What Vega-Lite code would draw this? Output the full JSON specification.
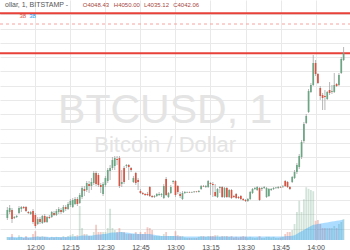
{
  "$schema": "https://vega.github.io/schema/vega-lite/v6.json",
  "width": 350,
  "height": 240,
  "autosize": {"type": "none"},
  "padding": {"left": 0, "top": 0, "right": 0, "bottom": 10},
  "background": "white",
  "config": {"view": {"stroke": null}, "font": "Liberation Sans"},
  "datasets": {
    "candles": [
      {"m":-12,"o":3947.4,"h":3955.1,"l":3946,"c":3953,"v":0.75,"a":0.75},
      {"m":-11,"o":3951.6,"h":3956.5,"l":3950.2,"c":3954.4,"v":0.6,"a":0.75},
      {"m":-10,"o":3953,"h":3954.4,"l":3943.9,"c":3946.7,"v":1.5,"a":0.8},
      {"m":-9,"o":3947.4,"h":3948.8,"l":3946.7,"c":3948.1,"v":0.5,"a":0.75},
      {"m":-8,"o":3948.1,"h":3949.5,"l":3947.4,"c":3948.8,"v":0.5,"a":0.7},
      {"m":-7,"o":3950.9,"h":3955.8,"l":3950.2,"c":3954.4,"v":1.2,"a":0.75},
      {"m":-6,"o":3953.7,"h":3955.8,"l":3951.6,"c":3955.1,"v":0.8,"a":0.75},
      {"m":-5,"o":3955.1,"h":3955.8,"l":3953.7,"c":3954.4,"v":0.5,"a":0.7},
      {"m":-4,"o":3955.1,"h":3955.8,"l":3951.6,"c":3952.3,"v":1,"a":0.75},
      {"m":-3,"o":3951.6,"h":3952.3,"l":3950.2,"c":3950.9,"v":0.5,"a":0.7},
      {"m":-2,"o":3950.2,"h":3952.3,"l":3949.5,"c":3951.6,"v":0.6,"a":0.7},
      {"m":-1,"o":3952.3,"h":3953.7,"l":3943.2,"c":3944.6,"v":1.5,"a":0.75},
      {"m":0,"o":3949.5,"h":3950.9,"l":3940.4,"c":3941.8,"v":2.2,"a":0.8},
      {"m":1,"o":3943.2,"h":3948.1,"l":3942.5,"c":3946.7,"v":1,"a":0.8},
      {"m":2,"o":3946.7,"h":3948.1,"l":3943.2,"c":3944.6,"v":0.8,"a":0.8},
      {"m":3,"o":3943.9,"h":3949.5,"l":3943.2,"c":3948.8,"v":1,"a":0.8},
      {"m":4,"o":3948.8,"h":3950.2,"l":3943.9,"c":3944.6,"v":0.8,"a":0.8},
      {"m":5,"o":3944.6,"h":3948.8,"l":3943.9,"c":3948.1,"v":0.7,"a":0.8},
      {"m":6,"o":3948.1,"h":3949.5,"l":3946.7,"c":3947.4,"v":0.5,"a":0.75},
      {"m":7,"o":3948.1,"h":3952.3,"l":3947.4,"c":3951.6,"v":0.8,"a":0.75},
      {"m":8,"o":3950.9,"h":3952.3,"l":3948.8,"c":3949.5,"v":0.6,"a":0.75},
      {"m":9,"o":3949.5,"h":3953.7,"l":3948.8,"c":3952.3,"v":0.8,"a":0.75},
      {"m":10,"o":3951.6,"h":3955.1,"l":3950.2,"c":3953.7,"v":0.7,"a":0.75},
      {"m":11,"o":3953,"h":3954.4,"l":3950.2,"c":3951.6,"v":0.6,"a":0.75},
      {"m":12,"o":3951.6,"h":3956.5,"l":3950.9,"c":3955.1,"v":1,"a":0.75},
      {"m":13,"o":3955.1,"h":3956.5,"l":3952.3,"c":3953.7,"v":0.7,"a":0.75},
      {"m":14,"o":3953.7,"h":3958.6,"l":3953,"c":3957.2,"v":1,"a":0.8},
      {"m":15,"o":3956.5,"h":3960.7,"l":3955.1,"c":3959.3,"v":1.2,"a":0.8},
      {"m":16,"o":3955.1,"h":3961.4,"l":3954.4,"c":3960,"v":1.5,"a":0.85},
      {"m":17,"o":3957.2,"h":3962.1,"l":3956.5,"c":3960.7,"v":1,"a":0.85},
      {"m":18,"o":3960.7,"h":3962.1,"l":3955.8,"c":3957.2,"v":1.2,"a":0.9},
      {"m":19,"o":3957.9,"h":3964.9,"l":3957.2,"c":3963.5,"v":8.5,"a":1},
      {"m":20,"o":3962.1,"h":3969.8,"l":3960.7,"c":3968.4,"v":3,"a":1.1},
      {"m":21,"o":3967.7,"h":3969.8,"l":3962.8,"c":3966.3,"v":1.5,"a":1.1},
      {"m":22,"o":3967,"h":3973.3,"l":3965.6,"c":3971.9,"v":1.5,"a":1.1},
      {"m":23,"o":3971.2,"h":3973.3,"l":3964.9,"c":3969.8,"v":1,"a":1.1},
      {"m":24,"o":3969.8,"h":3975.4,"l":3967,"c":3972.6,"v":1,"a":1.1},
      {"m":25,"o":3971.9,"h":3980.3,"l":3970.5,"c":3978.9,"v":2,"a":1.2},
      {"m":26,"o":3978.9,"h":3980.3,"l":3969.8,"c":3971.2,"v":3.8,"a":1.3},
      {"m":27,"o":3977.5,"h":3978.9,"l":3969.1,"c":3970.5,"v":2,"a":1.4},
      {"m":28,"o":3970.5,"h":3971.9,"l":3964.9,"c":3969.1,"v":2,"a":1.4},
      {"m":29,"o":3964.2,"h":3972.6,"l":3962.8,"c":3971.2,"v":2,"a":1.5},
      {"m":30,"o":3970.5,"h":3976.8,"l":3969.1,"c":3975.4,"v":2,"a":1.5},
      {"m":31,"o":3973.3,"h":3982.4,"l":3971.9,"c":3981,"v":3,"a":1.6},
      {"m":32,"o":3980.3,"h":3984.5,"l":3974,"c":3982.4,"v":7.8,"a":1.8},
      {"m":33,"o":3982.4,"h":3990.1,"l":3981,"c":3988,"v":3,"a":1.9},
      {"m":34,"o":3983.8,"h":3990.8,"l":3981,"c":3989.4,"v":2.5,"a":1.9},
      {"m":35,"o":3988.7,"h":3990.8,"l":3984.5,"c":3988,"v":2,"a":1.9},
      {"m":36,"o":3989.4,"h":3990.8,"l":3968.4,"c":3969.8,"v":3,"a":2},
      {"m":37,"o":3971.2,"h":3981,"l":3969.1,"c":3972.6,"v":2,"a":2},
      {"m":38,"o":3982.4,"h":3983.8,"l":3971.2,"c":3972.6,"v":2,"a":1.9},
      {"m":39,"o":3983.8,"h":3985.2,"l":3982.4,"c":3984.5,"v":1.5,"a":1.9},
      {"m":40,"o":3984.5,"h":3985.2,"l":3974,"c":3983.1,"v":1.5,"a":1.8},
      {"m":41,"o":3982.4,"h":3983.1,"l":3979.6,"c":3981,"v":1.5,"a":1.7},
      {"m":42,"o":3972.6,"h":3976.8,"l":3971.9,"c":3975.4,"v":1.5,"a":1.6},
      {"m":43,"o":3978.9,"h":3979.6,"l":3970.5,"c":3971.9,"v":2,"a":1.6},
      {"m":44,"o":3974,"h":3975.4,"l":3967,"c":3972.6,"v":1.5,"a":1.5},
      {"m":45,"o":3966.3,"h":3967.7,"l":3964.2,"c":3964.9,"v":2,"a":1.5},
      {"m":46,"o":3964.9,"h":3965.6,"l":3963.5,"c":3964.2,"v":1.5,"a":1.5},
      {"m":47,"o":3964.2,"h":3964.9,"l":3962.8,"c":3963.5,"v":2,"a":1.5},
      {"m":48,"o":3964.2,"h":3965.6,"l":3962.8,"c":3963.5,"v":3.2,"a":1.5},
      {"m":49,"o":3969.1,"h":3969.8,"l":3962.1,"c":3962.8,"v":3,"a":1.5},
      {"m":50,"o":3962.8,"h":3963.5,"l":3961.4,"c":3962.1,"v":2.5,"a":1.4},
      {"m":51,"o":3962.1,"h":3963.5,"l":3961.4,"c":3962.8,"v":1,"a":1.3},
      {"m":52,"o":3962.8,"h":3964.9,"l":3962.1,"c":3964.2,"v":1,"a":1.2},
      {"m":53,"o":3963.5,"h":3965.6,"l":3962.8,"c":3964.2,"v":1,"a":1.1},
      {"m":54,"o":3963.5,"h":3964.9,"l":3962.1,"c":3964.2,"v":1,"a":1},
      {"m":55,"o":3961.4,"h":3971.2,"l":3960.7,"c":3969.8,"v":1.5,"a":1},
      {"m":56,"o":3974.7,"h":3976.1,"l":3962.8,"c":3963.5,"v":2,"a":1},
      {"m":57,"o":3962.1,"h":3965.6,"l":3961.4,"c":3964.9,"v":1,"a":1},
      {"m":58,"o":3964.9,"h":3970.5,"l":3964.2,"c":3969.1,"v":1,"a":1},
      {"m":59,"o":3972.6,"h":3974,"l":3971.2,"c":3973.3,"v":1,"a":1},
      {"m":60,"o":3973.3,"h":3974,"l":3962.1,"c":3963.5,"v":2.2,"a":1},
      {"m":61,"o":3969.8,"h":3970.5,"l":3964.2,"c":3965.6,"v":1.2,"a":0.95},
      {"m":62,"o":3964.2,"h":3965.6,"l":3961.4,"c":3962.8,"v":1,"a":0.9},
      {"m":63,"o":3960.7,"h":3966.3,"l":3960,"c":3964.9,"v":1,"a":0.9},
      {"m":64,"o":3964.9,"h":3966.3,"l":3964.2,"c":3965.6,"v":0.6,"a":0.85},
      {"m":65,"o":3965.25,"h":3965.95,"l":3964.9,"c":3965.6,"v":0.5,"a":0.85},
      {"m":66,"o":3965.6,"h":3965.95,"l":3964.9,"c":3965.25,"v":0.5,"a":0.85},
      {"m":67,"o":3965.25,"h":3965.95,"l":3964.9,"c":3965.6,"v":0.5,"a":0.85},
      {"m":68,"o":3965.6,"h":3966.3,"l":3964.9,"c":3965.95,"v":0.5,"a":0.85},
      {"m":69,"o":3965.95,"h":3966.3,"l":3965.25,"c":3965.6,"v":0.5,"a":0.85},
      {"m":70,"o":3965.6,"h":3967,"l":3965.25,"c":3966.3,"v":0.8,"a":0.85},
      {"m":71,"o":3967.7,"h":3970.5,"l":3967,"c":3969.8,"v":1,"a":0.85},
      {"m":72,"o":3969.8,"h":3970.5,"l":3969.1,"c":3969.45,"v":1,"a":0.85},
      {"m":73,"o":3969.1,"h":3970.5,"l":3968.4,"c":3969.8,"v":0.8,"a":0.85},
      {"m":74,"o":3969.1,"h":3974,"l":3968.4,"c":3973.3,"v":1,"a":0.85},
      {"m":75,"o":3971.9,"h":3972.6,"l":3963.5,"c":3971.2,"v":1,"a":0.85},
      {"m":76,"o":3971.2,"h":3972.6,"l":3962.1,"c":3970.5,"v":1,"a":0.85},
      {"m":77,"o":3965.6,"h":3971.2,"l":3962.1,"c":3962.8,"v":1.2,"a":0.85},
      {"m":78,"o":3962.1,"h":3968.4,"l":3961.4,"c":3967.7,"v":1.2,"a":0.85},
      {"m":79,"o":3968.4,"h":3969.8,"l":3964.9,"c":3969.1,"v":0.8,"a":0.85},
      {"m":80,"o":3969.1,"h":3969.8,"l":3961.4,"c":3962.1,"v":1,"a":0.85},
      {"m":81,"o":3962.1,"h":3969.1,"l":3961.4,"c":3968.4,"v":1,"a":0.85},
      {"m":82,"o":3968.4,"h":3969.1,"l":3961.4,"c":3962.1,"v":1,"a":0.85},
      {"m":83,"o":3962.1,"h":3967.7,"l":3961.4,"c":3967,"v":0.8,"a":0.85},
      {"m":84,"o":3967,"h":3967.7,"l":3960.7,"c":3961.4,"v":1,"a":0.85},
      {"m":85,"o":3962.8,"h":3963.5,"l":3961.4,"c":3962.1,"v":0.6,"a":0.85},
      {"m":86,"o":3964.2,"h":3964.9,"l":3960.7,"c":3961.4,"v":0.8,"a":0.85},
      {"m":87,"o":3962.1,"h":3962.8,"l":3960.7,"c":3961.4,"v":0.6,"a":0.85},
      {"m":88,"o":3962.8,"h":3963.5,"l":3960,"c":3960.7,"v":0.8,"a":0.85},
      {"m":89,"o":3960.7,"h":3961.4,"l":3959.3,"c":3960,"v":1,"a":0.85},
      {"m":90,"o":3960,"h":3960.7,"l":3958.6,"c":3959.3,"v":0.8,"a":0.85},
      {"m":91,"o":3959.3,"h":3961.4,"l":3958.6,"c":3960.7,"v":0.6,"a":0.85},
      {"m":92,"o":3960.7,"h":3966.3,"l":3960,"c":3965.6,"v":0.8,"a":0.85},
      {"m":93,"o":3964.9,"h":3968.4,"l":3964.2,"c":3967.7,"v":0.6,"a":0.85},
      {"m":94,"o":3967.7,"h":3969.1,"l":3967,"c":3968.4,"v":0.5,"a":0.85},
      {"m":95,"o":3967,"h":3969.8,"l":3966.3,"c":3969.1,"v":0.6,"a":0.85},
      {"m":96,"o":3968.4,"h":3969.1,"l":3959.3,"c":3960,"v":1,"a":0.85},
      {"m":97,"o":3967.7,"h":3969.1,"l":3966.3,"c":3968.4,"v":0.5,"a":0.85},
      {"m":98,"o":3968.4,"h":3969.8,"l":3967.7,"c":3969.1,"v":0.5,"a":0.85},
      {"m":99,"o":3962.1,"h":3969.1,"l":3961.4,"c":3968.4,"v":0.8,"a":0.85},
      {"m":100,"o":3962.8,"h":3968.4,"l":3962.1,"c":3967.7,"v":0.8,"a":0.85},
      {"m":101,"o":3967,"h":3968.4,"l":3966.3,"c":3967.7,"v":0.6,"a":0.85},
      {"m":102,"o":3967.7,"h":3969.1,"l":3967,"c":3968.4,"v":0.8,"a":0.85},
      {"m":103,"o":3968.4,"h":3969.1,"l":3967.7,"c":3968.75,"v":0.5,"a":0.85},
      {"m":104,"o":3968.4,"h":3969.8,"l":3967.7,"c":3969.1,"v":0.5,"a":0.85},
      {"m":105,"o":3969.1,"h":3969.8,"l":3968.4,"c":3968.75,"v":0.6,"a":0.85},
      {"m":106,"o":3969.1,"h":3970.5,"l":3968.4,"c":3969.45,"v":0.8,"a":0.9},
      {"m":107,"o":3973.3,"h":3974,"l":3969.1,"c":3969.8,"v":1.5,"a":0.95},
      {"m":108,"o":3972.6,"h":3973.3,"l":3968.4,"c":3969.1,"v":2,"a":1},
      {"m":109,"o":3969.1,"h":3969.8,"l":3967,"c":3967.7,"v":2,"a":1},
      {"m":110,"o":3972.6,"h":3976.8,"l":3971.9,"c":3976.1,"v":2.5,"a":1.05},
      {"m":111,"o":3975.4,"h":3981,"l":3974.7,"c":3979.6,"v":4,"a":1.2},
      {"m":112,"o":3979.6,"h":3985.9,"l":3978.2,"c":3984.5,"v":7,"a":1.5},
      {"m":113,"o":3983.1,"h":3992.2,"l":3981.7,"c":3990.8,"v":9.8,"a":1.9},
      {"m":114,"o":3990.1,"h":4002,"l":3988.7,"c":4000.6,"v":7,"a":2.2},
      {"m":115,"o":4001.3,"h":4014.6,"l":3999.9,"c":4013.2,"v":10.2,"a":2.5},
      {"m":116,"o":4013.9,"h":4020.2,"l":4013.2,"c":4018.8,"v":13.2,"a":2.9},
      {"m":117,"o":4021.6,"h":4037.7,"l":4020.9,"c":4036.3,"v":12.8,"a":3.2},
      {"m":118,"o":4035.6,"h":4041.9,"l":4034.9,"c":4040.5,"v":12.5,"a":3.5},
      {"m":119,"o":4040.5,"h":4061.5,"l":4039.8,"c":4055.9,"v":12.2,"a":3.8},
      {"m":120,"o":4055.9,"h":4058,"l":4046.8,"c":4048.2,"v":4.8,"a":3.9},
      {"m":121,"o":4048.2,"h":4048.9,"l":4041.2,"c":4041.9,"v":5,"a":4},
      {"m":122,"o":4038.4,"h":4039.8,"l":4030,"c":4032.8,"v":4,"a":4.1},
      {"m":123,"o":4033.5,"h":4034.9,"l":4023,"c":4031.4,"v":3,"a":4.2},
      {"m":124,"o":4032.8,"h":4037,"l":4023,"c":4032.1,"v":3,"a":4.3},
      {"m":125,"o":4030.7,"h":4036.3,"l":4030,"c":4035.6,"v":3,"a":4.4},
      {"m":126,"o":4037,"h":4042.6,"l":4033.5,"c":4034.9,"v":3,"a":4.5},
      {"m":127,"o":4035.6,"h":4040.5,"l":4034.2,"c":4036.3,"v":3,"a":4.6},
      {"m":128,"o":4035.6,"h":4048.9,"l":4034.9,"c":4040.5,"v":3.5,"a":4.7},
      {"m":129,"o":4041.2,"h":4041.9,"l":4039.1,"c":4039.8,"v":3,"a":4.8},
      {"m":130,"o":4040.5,"h":4048.9,"l":4039.8,"c":4047.5,"v":4,"a":4.9},
      {"m":131,"o":4048.9,"h":4060.1,"l":4048.2,"c":4058.7,"v":4.5,"a":5},
      {"m":132,"o":4058,"h":4067.1,"l":4057.3,"c":4062.9,"v":5.2,"a":5.1}
    ]
  },
  "encoding": {
    "x": {
      "field": "m",
      "type": "quantitative",
      "scale": {"domain": [-13, 132.6], "nice": false, "zero": false},
      "axis": {
        "values": [0, 15, 30, 45, 60, 75, 90, 105, 120],
        "labelExpr": "floor((720 + datum.value) / 60) + ':' + (((720 + datum.value) % 60) < 10 ? '0' : '') + ((720 + datum.value) % 60)",
        "title": null,
        "ticks": false,
        "domain": false,
        "grid": true,
        "gridColor": "#e9e9e9",
        "gridWidth": 1,
        "labelFontSize": 7,
        "labelColor": "#4a4a4a",
        "labelPadding": 3,
        "labelFlush": false,
        "labelOverlap": false
      }
    }
  },
  "layer": [
    {
      "data": {"values": [
        {"m": 55.6, "p": 4013.9, "t": "BTCUSD, 1"}
      ]},
      "mark": {"type": "text", "fontSize": 41, "color": "#e4e4e4", "align": "center", "baseline": "alphabetic"},
      "encoding": {
        "y": {
          "field": "p", "type": "quantitative",
          "scale": {"domain": [3932, 4100], "nice": false, "zero": false},
          "axis": {
            "values": [3940, 3950, 3960, 3970, 3980, 3990, 4000, 4010, 4020, 4030, 4040, 4050, 4060, 4070, 4080, 4090],
            "labels": false, "ticks": false, "domain": false, "title": null,
            "grid": true, "gridColor": "#e9e9e9", "gridWidth": 1
          }
        },
        "text": {"field": "t"}
      }
    },
    {
      "layer": [
        {
          "data": {"values": [
            {"m": 55.6, "p": 3993.6, "t": "Bitcoin / Dollar"}
          ]},
          "mark": {"type": "text", "fontSize": 22, "color": "#e4e4e4", "align": "center", "baseline": "alphabetic"},
          "encoding": {
            "y": {"field": "p", "type": "quantitative", "scale": {"domain": [3932, 4100], "nice": false, "zero": false}, "axis": null},
            "text": {"field": "t"}
          }
        }
      ]
    },
    {
      "data": {"name": "candles"},
      "layer": [
        {
          "mark": {"type": "bar", "size": 1.8, "opacity": 0.3},
          "encoding": {
            "y": {"field": "v", "type": "quantitative", "scale": {"domain": [0, 60], "nice": false}, "axis": null},
            "color": {"condition": {"test": "datum.c >= datum.o", "value": "#6ba583"}, "value": "#d75442"}
          }
        },
        {
          "mark": {"type": "area", "color": "#0496ff", "opacity": 0.33, "interpolate": "linear"},
          "encoding": {
            "y": {"field": "a", "type": "quantitative", "scale": {"domain": [0, 60], "nice": false}, "axis": null}
          }
        }
      ]
    },
    {
      "layer": [
        {
          "data": {"values": [{"p": 4090.7}, {"p": 4062.7}]},
          "mark": {"type": "rule", "color": "#e8413a", "strokeWidth": 2},
          "encoding": {
            "x": {"value": 0},
            "x2": {"value": 350},
            "y": {"field": "p", "type": "quantitative", "scale": {"domain": [3932, 4100], "nice": false, "zero": false}, "axis": null}
          }
        },
        {
          "data": {"values": [{"p": 4083.2}]},
          "mark": {"type": "rule", "color": "#f3a5a2", "strokeWidth": 1, "strokeDash": [3, 3]},
          "encoding": {
            "x": {"value": 0},
            "x2": {"value": 350},
            "y": {"field": "p", "type": "quantitative", "scale": {"domain": [3932, 4100], "nice": false, "zero": false}, "axis": null}
          }
        },
        {
          "data": {"name": "candles"},
          "mark": {"type": "rule", "color": "#a4a4a4", "strokeWidth": 0.8},
          "encoding": {
            "y": {"field": "l", "type": "quantitative", "scale": {"domain": [3932, 4100], "nice": false, "zero": false}, "axis": null},
            "y2": {"field": "h"}
          }
        },
        {
          "data": {"name": "candles"},
          "mark": {"type": "bar", "size": 1.7},
          "encoding": {
            "y": {"field": "o", "type": "quantitative", "scale": {"domain": [3932, 4100], "nice": false, "zero": false}, "axis": null},
            "y2": {"field": "c"},
            "color": {"condition": {"test": "datum.c >= datum.o", "value": "#6ba583"}, "value": "#d75442"}
          }
        },
        {
          "data": {"values": [
            {"m": -13, "p": 4096.5, "t": "ollar, 1, BITSTAMP -"}
          ]},
          "mark": {"type": "text", "fontSize": 7, "color": "#555555", "align": "left", "baseline": "middle"},
          "encoding": {
            "y": {"field": "p", "type": "quantitative", "scale": {"domain": [3932, 4100], "nice": false, "zero": false}, "axis": null},
            "text": {"field": "t"}
          }
        },
        {
          "data": {"values": [
            {"m": 20.3, "p": 4096.5, "t": "O4048.43"},
            {"m": 33.6, "p": 4096.5, "t": "H4050.00"},
            {"m": 46.5, "p": 4096.5, "t": "L4035.12"},
            {"m": 59, "p": 4096.5, "t": "C4042.06"}
          ]},
          "mark": {"type": "text", "fontSize": 6, "color": "#a8463e", "align": "left", "baseline": "middle"},
          "encoding": {
            "y": {"field": "p", "type": "quantitative", "scale": {"domain": [3932, 4100], "nice": false, "zero": false}, "axis": null},
            "text": {"field": "t"}
          }
        },
        {
          "data": {"values": [
            {"m": -6.8, "p": 4088.8, "t": "38", "s": "vol"},
            {"m": -2.6, "p": 4088.8, "t": "38", "s": "ma"}
          ]},
          "mark": {"type": "text", "fontSize": 6, "align": "left", "baseline": "middle"},
          "encoding": {
            "y": {"field": "p", "type": "quantitative", "scale": {"domain": [3932, 4100], "nice": false, "zero": false}, "axis": null},
            "text": {"field": "t"},
            "color": {"field": "s", "type": "nominal", "scale": {"domain": ["vol", "ma"], "range": ["#d75442", "#2196f3"]}, "legend": null}
          }
        }
      ]
    }
  ],
  "resolve": {"scale": {"y": "independent", "color": "independent"}}
}
